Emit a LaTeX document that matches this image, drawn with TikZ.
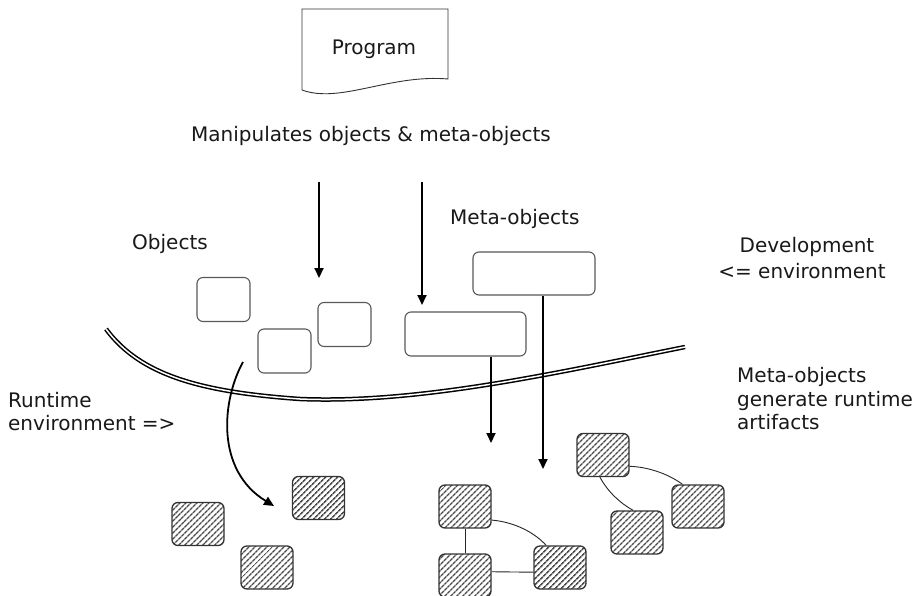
\documentclass[tikz,border=0pt]{standalone}
\usepackage{fontspec}
\setmainfont{DejaVu Sans}
\usetikzlibrary{arrows.meta,patterns.meta}
\begin{document}
\begin{tikzpicture}[x=1pt,y=-1pt,
  lbl/.style={font=\fontsize{20}{24}\selectfont, text=black!90, inner sep=0pt},
  objbox/.style={draw=black!65, line width=1.1pt, rounded corners=6pt, fill=white, inner sep=0pt},
  hatchbox/.style={draw=black!80, line width=1.3pt, rounded corners=6pt, inner sep=0pt,
     minimum width=52pt, minimum height=43pt,
     pattern={Lines[angle=45,distance=4pt,line width=1.6pt]}, pattern color=black!70},
  arr/.style={line width=2pt, -{Triangle[length=10pt,width=9pt]}},
  link/.style={line width=0.9pt, black!85},
  border/.style={line width=1.5pt, double=white, double distance=1.5pt}
]
\path[use as bounding box, fill=white] (0,0) rectangle (913,596);

% Program document shape
\draw[line width=0.9pt, black!80] (302,9) -- (448,9) -- (448,79)
   .. controls (390,74) and (340,104) .. (302,90) -- cycle;
\node[lbl, anchor=base] (prog) at (374,55) {Program};

% labels
\node[lbl, anchor=base] (manip) at (371,142) {Manipulates objects \& meta-objects};
\node[lbl, anchor=base west] (metalbl) at (450,225) {Meta-objects};
\node[lbl, anchor=base west] (objlbl) at (132,250) {Objects};
\node[lbl, anchor=base] (dev1) at (807,252) {Development};
\node[lbl, anchor=base] (dev2) at (802,278) {<= environment};
\node[lbl, anchor=base west] (rt1) at (8,407) {Runtime};
\node[lbl, anchor=base west] (rt2) at (8,430) {environment =>};
\node[lbl, anchor=base west] (gen1) at (737,382) {Meta-objects};
\node[lbl, anchor=base west] (gen2) at (737,406) {generate runtime};
\node[lbl, anchor=base west] (gen3) at (737,429) {artifacts};

% object boxes
\node[objbox, minimum width=53pt, minimum height=44pt] (A) at (223.5,299.5) {};
\node[objbox, minimum width=53pt, minimum height=44pt] (B) at (284.5,351) {};
\node[objbox, minimum width=53pt, minimum height=44pt] (C) at (344.5,324.5) {};

% meta-object boxes
\node[objbox, minimum width=121pt, minimum height=44pt] (D) at (465.5,334) {};
\node[objbox, minimum width=122pt, minimum height=43pt] (E) at (534,273.5) {};

% arrows from program manipulation
\coordinate (a1s) at (319,182);
\coordinate (a1e) at (319,278);
\coordinate (a2s) at (422,182);
\coordinate (a2e) at (422,305);
\draw[arr] (a1s) -- (a1e);
\draw[arr] (a2s) -- (a2e);

% boundary
\draw[border] (106,329) .. controls (140,375) and (200,392) .. (300,399)
   .. controls (420,404) and (560,372) .. (685,347);

% meta-objects generate
\coordinate (t1) at (491,443);
\coordinate (t2) at (543,469);
\draw[arr] (t1 |- D.south) -- (t1);
\draw[arr] (t2 |- E.south) -- (t2);

% runtime objects
\node[hatchbox] (R1) at (198,524) {};
\node[hatchbox] (R2) at (318.5,498) {};
\node[hatchbox] (R3) at (267,567.5) {};
\coordinate (cs) at (243,362);
\coordinate (ct) at (274,506);
\draw[line width=1.8pt, -{Triangle[length=10pt,width=9pt]}] (cs) .. controls (222,400) and (215,470) .. (ct);

% generated artifacts
\node[hatchbox] (G1) at (465,506.5) {};
\node[hatchbox] (G2) at (465,575.5) {};
\node[hatchbox] (G3) at (560,567.5) {};
\node[hatchbox] (G4) at (603,455) {};
\node[hatchbox] (G5) at (698,506.5) {};
\node[hatchbox] (G6) at (637,532.5) {};

\draw[link] (G1) -- (G2);
\draw[link] (G2.8) -- (G3.190);
\draw[link] (G1.-27) .. controls (515,522) and (535,533) .. (G3.122);
\draw[link] (G4.-23) .. controls (650,467) and (670,475) .. (G5.125);
\draw[link] (G4.-98) .. controls (608,492) and (620,503) .. (G6.100);
\end{tikzpicture}
\end{document}
